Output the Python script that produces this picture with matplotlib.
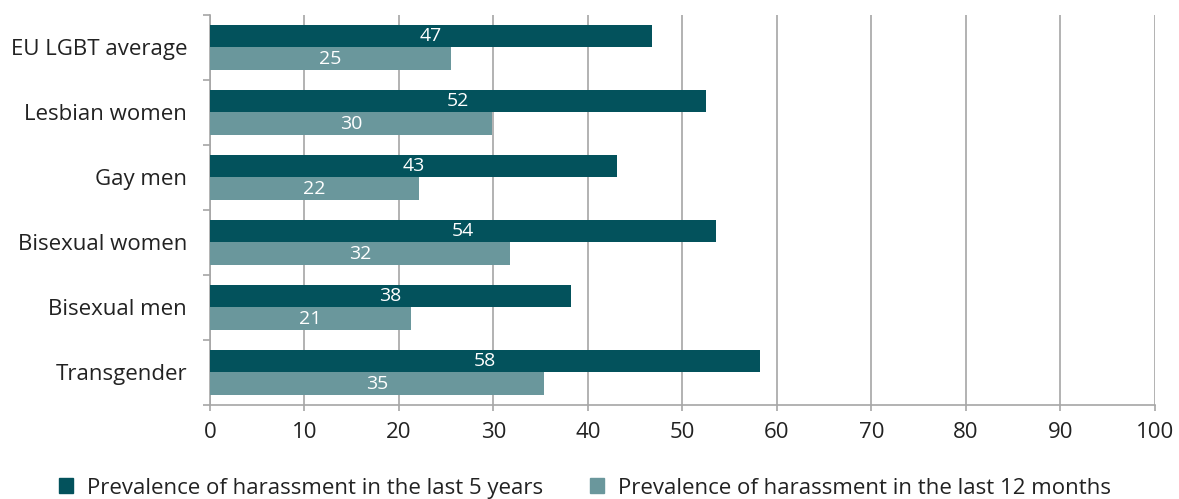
import matplotlib.pyplot as plt
import numpy as np

plt.rcParams['font.family'] = ['Open Sans', 'DejaVu Sans']

# chart data
groups = ['EU LGBT average', 'Lesbian women', 'Gay men', 'Bisexual women', 'Bisexual men', 'Transgender']
five_years = [47, 52, 43, 54, 38, 58]
twelve_months = [25, 30, 22, 32, 21, 35]
# bar lengths as drawn (the labels are rounded)
five_years_len = [46.8, 52.5, 43.1, 53.5, 38.2, 58.2]
twelve_months_len = [25.5, 29.8, 22.1, 31.7, 21.3, 35.3]

dark = '#03525c'
light = '#6a979c'
grey = '#a6a6a6'

fig = plt.figure(figsize=(11.79, 4.99), dpi=100)
ax = fig.add_axes([0.1781, 0.1884, 0.8015, 0.7816])

y = np.arange(len(groups))
h = 0.34
b1 = ax.barh(y - h / 2, five_years_len, height=h, color=dark, zorder=3)
b2 = ax.barh(y + h / 2, twelve_months_len, height=h, color=light, zorder=3)

ax.bar_label(b1, labels=[str(v) for v in five_years], label_type='center',
             color='white', fontsize=14)
ax.bar_label(b2, labels=[str(v) for v in twelve_months], label_type='center',
             color='white', fontsize=14)

ax.set_xlim(0, 100)
ax.set_ylim(len(groups) - 0.5, -0.5)
ax.set_xticks(range(0, 101, 10))
ax.tick_params(axis='x', labelsize=16, length=4, color=grey, width=1.2, pad=8, labelcolor='#222222')

ax.set_yticks(y)
ax.set_yticklabels(groups)
ax.tick_params(axis='y', which='major', length=0, labelsize=16, pad=16.5, labelcolor='#222222')
ax.set_yticks(np.arange(-0.5, len(groups)), minor=True)
ax.tick_params(axis='y', which='minor', length=5, color=grey, width=1.2)

ax.grid(axis='x', color=grey, linewidth=1.2, zorder=0)
for s in ['top', 'right']:
    ax.spines[s].set_visible(False)
for s in ['left', 'bottom']:
    ax.spines[s].set_color(grey)
    ax.spines[s].set_linewidth(1.2)

handles = [plt.Rectangle((0, 0), 1, 1, color=dark), plt.Rectangle((0, 0), 1, 1, color=light)]
fig.legend(handles, ['Prevalence of harassment in the last 5 years',
                     'Prevalence of harassment in the last 12 months'],
           loc='center left', bbox_to_anchor=(0.033, 0.022), ncol=2, frameon=False,
           fontsize=16, handlelength=0.63, handleheight=0.63, handletextpad=0.63,
           columnspacing=2.1, labelcolor='#222222')

fig.savefig('out.png', dpi=100)
